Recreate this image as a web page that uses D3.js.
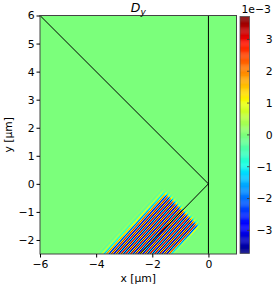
<!DOCTYPE html>
<html><head><meta charset="utf-8">
<script src="https://cdn.jsdelivr.net/npm/d3@7"></script>
<style>body{margin:0;background:#fff}svg{display:block}text{font-family:"DejaVu Sans",sans-serif;fill:#000}</style>
</head><body><svg id="c" width="274" height="287"></svg>
<script>
// ---- data ----
const xTicks = [-6, -4, -2, 0];
const yTicks = [-2, -1, 0, 1, 2, 3, 4, 5, 6];
const cbTicks = [-3, -2, -1, 0, 1, 2, 3];
const xDomain = [-6, 1];
const yDomain = [-2.5, 6];
const colorDomain = [-3.72, 3.72];          // units of 1e-3
const guidePathA = [[-6, 6], [0, 0], [-2.45, -2.5]];
const guidePathB = [[0, 6], [0, -2.5]];
// beam (field) parameters, in µm and 1e-3 units
const beamEdges = [-0.82, 0.84];            // transverse edges (lower-right, upper-left)
const beamSoftness = [0.03, 0.06, 0.04];    // lower edge, upper edge, front
const beamFront = -1.30;                    // along-beam position of the front
const beamAmplitude = [4.0];
const stripePeriodX = [0.172];              // stripe period measured along x
const stripeAngleDeg = [48];                // stripe orientation from horizontal
const gridSize = [196, 238];
const subSamples = [3];

// ---- layout ----
const svg = d3.select("#c");
const L = 40, R = 236.5, T = 15.5, B = 254;
const x = d3.scaleLinear().domain(xDomain).range([L, R]);
const y = d3.scaleLinear().domain(yDomain).range([B, T]);

const jr = d3.scaleLinear().domain([0, 0.35, 0.66, 0.89, 1]).range([0, 0, 1, 1, 0.5]).clamp(true);
const jg = d3.scaleLinear().domain([0, 0.125, 0.375, 0.64, 0.91, 1]).range([0, 0, 1, 1, 0, 0]).clamp(true);
const jb = d3.scaleLinear().domain([0, 0.11, 0.34, 0.65, 1]).range([0.5, 1, 1, 0, 0]).clamp(true);
const jet = t => d3.rgb(jr(t) * 255, jg(t) * 255, jb(t) * 255).formatHex();
const cnorm = d3.scaleLinear().domain(colorDomain).range([0, 1]).clamp(true);
const color = v => jet(cnorm(v));

// background (zero field)
svg.append("rect").attr("x", L).attr("y", T).attr("width", R - L).attr("height", B - T).attr("fill", color(0));

// field cells
const dx = (xDomain[1] - xDomain[0]) / gridSize[0];
const dy = (yDomain[1] - yDomain[0]) / gridSize[1];
const sig = z => 1 / (1 + Math.exp(-z));
const ang = stripeAngleDeg[0] * Math.PI / 180;
const kx = 2 * Math.PI / stripePeriodX[0];
const slope = Math.tan(ang);
function field(px, py) {
  const s = (px + py) / Math.SQRT2, t = (py - px) / Math.SQRT2;
  const env = sig((t - beamEdges[0]) / beamSoftness[0]) * sig((beamEdges[1] - t) / beamSoftness[1]) *
              sig((beamFront - s) / beamSoftness[2]);
  return beamAmplitude[0] * env * Math.cos(kx * (px - py / slope));
}
const cells = [];
const n = subSamples[0];
for (let i = 0; i < gridSize[0]; i++) {
  for (let j = 0; j < gridSize[1]; j++) {
    const x0 = xDomain[0] + i * dx, y0 = yDomain[1] - (j + 1) * dy;
    let acc = 0;
    for (let a = 0; a < n; a++) for (let b = 0; b < n; b++)
      acc += field(x0 + (a + 0.5) * dx / n, y0 + (b + 0.5) * dy / n);
    const v = acc / (n * n);
    if (Math.abs(v) > 0.03) cells.push({x0, y0, v});
  }
}
svg.append("g").selectAll("rect").data(cells).join("rect")
  .attr("x", d => x(d.x0)).attr("y", d => y(d.y0 + dy))
  .attr("width", x(dx) - x(0) + 0.02).attr("height", y(0) - y(dy) + 0.02)
  .attr("fill", d => color(d.v)).attr("shape-rendering", "crispEdges");

// guide lines
svg.append("clipPath").attr("id", "clip").append("rect").attr("x", L).attr("y", T).attr("width", R - L).attr("height", B - T);
const line = d3.line().x(d => x(d[0])).y(d => y(d[1]));
[guidePathA, guidePathB].forEach(p => svg.append("path").attr("d", line(p)).attr("clip-path", "url(#clip)")
  .attr("fill", "none").attr("stroke", "#000").attr("stroke-width", 1));

// frame
svg.append("rect").attr("x", L).attr("y", T).attr("width", R - L).attr("height", B - T)
  .attr("fill", "none").attr("stroke", "#444").attr("stroke-width", 1);

const fmt = d => (d < 0 ? "\u2212" + Math.abs(d) : "" + d);
const fs = "10.8px";
// x axis
const gx = svg.append("g").attr("transform", `translate(0,${B})`)
  .call(d3.axisBottom(x).tickValues(xTicks).tickFormat(fmt).tickSize(3.5).tickPadding(2.5));
gx.select(".domain").remove();
gx.selectAll("text").style("font-size", fs).attr("font-family", "DejaVu Sans");
gx.selectAll("line").attr("stroke", "#000");
// y axis
const gy = svg.append("g").attr("transform", `translate(${L},0)`)
  .call(d3.axisLeft(y).tickValues(yTicks).tickFormat(fmt).tickSize(3.5).tickPadding(2));
gy.select(".domain").remove();
gy.selectAll("text").style("font-size", fs).attr("font-family", "DejaVu Sans");
gy.selectAll("line").attr("stroke", "#000");

// axis labels
svg.append("text").attr("x", (L + R) / 2).attr("y", 281.5).attr("text-anchor", "middle").style("font-size", fs).text("x [\u03bcm]");
svg.append("text").attr("transform", `translate(12,${(T + B) / 2}) rotate(-90)`).attr("text-anchor", "middle").style("font-size", fs).text("y [\u03bcm]");

// title
const title = svg.append("text").attr("x", (L + R) / 2).attr("y", 11.5).attr("text-anchor", "middle").style("font-size", "12.5px").style("font-style", "italic");
title.append("tspan").text("D");
title.append("tspan").attr("dy", 3).style("font-size", "9px").text("y");

// colorbar
const cbL = 240, cbR = 249.5, cbT = 16.5, cbB = 253.3;
const cbs = d3.scaleLinear().domain(colorDomain).range([cbB, cbT]);
const steps = d3.range(0, 256);
const stepVal = k => colorDomain[0] + (k + 0.5) * (colorDomain[1] - colorDomain[0]) / 256;
svg.append("g").selectAll("rect").data(steps).join("rect")
  .attr("x", cbL).attr("width", cbR - cbL)
  .attr("y", k => cbs(colorDomain[0] + (k + 1) * (colorDomain[1] - colorDomain[0]) / 256))
  .attr("height", (cbB - cbT) / 256 + 0.3)
  .attr("fill", k => color(stepVal(k)));
svg.append("rect").attr("x", cbL).attr("y", cbT).attr("width", cbR - cbL).attr("height", cbB - cbT)
  .attr("fill", "none").attr("stroke", "#555").attr("stroke-width", 0.8);
svg.append("g").selectAll("line").data(cbTicks).join("line")
  .attr("x1", cbR - 2.5).attr("x2", cbR).attr("y1", d => cbs(d)).attr("y2", d => cbs(d))
  .attr("stroke", "#333").attr("stroke-width", 0.8);
svg.append("g").selectAll("text").data(cbTicks).join("text")
  .attr("x", 272.5).attr("y", d => cbs(d)).attr("dy", "0.35em").attr("text-anchor", "end")
  .style("font-size", fs).text(fmt);
svg.append("text").attr("x", 241.5).attr("y", 13).style("font-size", fs).text("1e\u22123");
</script></body></html>
